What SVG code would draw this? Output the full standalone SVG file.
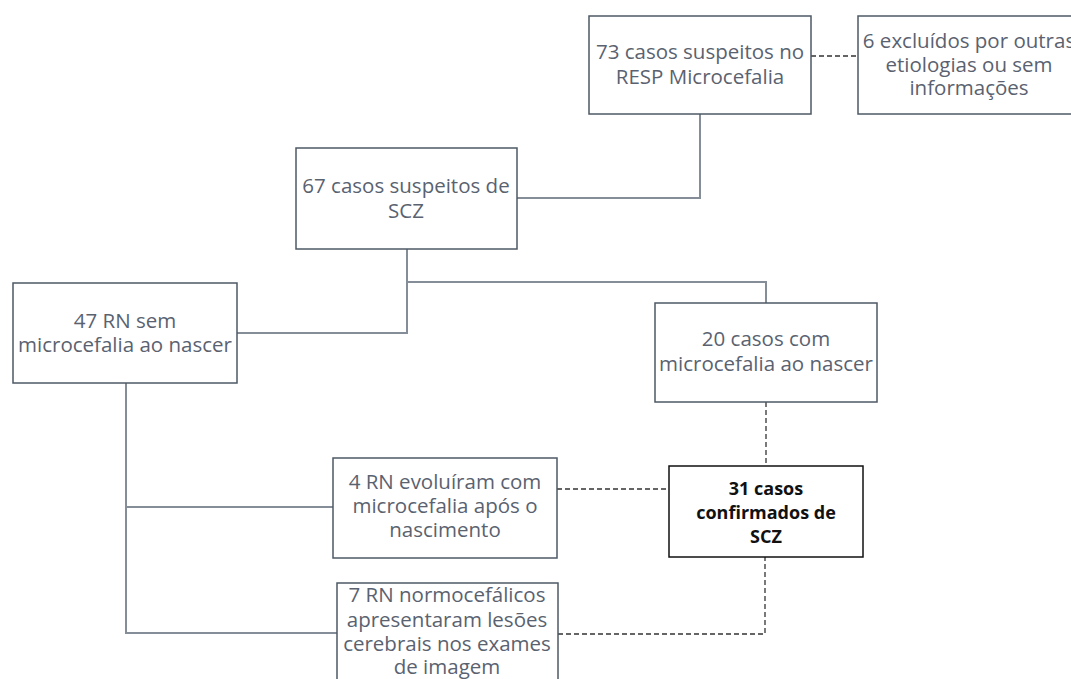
<svg xmlns="http://www.w3.org/2000/svg" width="1071" height="679" viewBox="0 0 1071 679">
<style>
.box{fill:#fff;stroke:#4e5866;stroke-width:1.5}
.t{font-family:"Open Sans",Lato,sans-serif;font-size:20.5px;fill:#5a6270;text-anchor:middle}
.b{font-family:"Open Sans",Lato,sans-serif;font-size:18px;fill:#111;font-weight:bold;text-anchor:middle}
.c{fill:none;stroke:#858d98;stroke-width:2}
.d{fill:none;stroke:#333;stroke-width:1.3;stroke-dasharray:5,3}
</style>
<rect width="1071" height="679" fill="#fff"/>
<g id="connectors">
<polyline class="c" points="700,114 700,198 517,198"/>
<polyline class="c" points="407,249 407,333 237,333"/>
<polyline class="c" points="407,282 766,282 766,303"/>
<polyline class="c" points="126,383 126,633 337,633"/>
<line class="c" x1="126" y1="507" x2="333" y2="507"/>
<line class="d" x1="811" y1="56" x2="858" y2="56"/>
<line class="d" x1="766" y1="402" x2="766" y2="466"/>
<line class="d" x1="557" y1="489" x2="669" y2="489"/>
<polyline class="d" points="558,634 765,634 765,557"/>
</g>
<g id="n73">
<rect class="box" x="589" y="16" width="222" height="98"/>
<text class="t" x="700" y="59">73 casos suspeitos no</text>
<text class="t" x="700" y="84">RESP Microcefalia</text>
</g>
<g id="n6">
<rect class="box" x="858" y="16" width="222" height="98"/>
<text class="t" x="969" y="48">6 excluídos por outras</text>
<text class="t" x="969" y="71.5">etiologias ou sem</text>
<text class="t" x="969" y="95">informações</text>
</g>
<g id="n67">
<rect class="box" x="296" y="148" width="221" height="101"/>
<text class="t" x="406" y="193">67 casos suspeitos de</text>
<text class="t" x="406" y="218">SCZ</text>
</g>
<g id="n47">
<rect class="box" x="13" y="283" width="224" height="100"/>
<text class="t" x="125" y="328">47 RN sem</text>
<text class="t" x="125" y="352">microcefalia ao nascer</text>
</g>
<g id="n20">
<rect class="box" x="655" y="303" width="222" height="99"/>
<text class="t" x="766" y="346">20 casos com</text>
<text class="t" x="766" y="371">microcefalia ao nascer</text>
</g>
<g id="n4">
<rect class="box" x="333" y="458" width="224" height="100"/>
<text class="t" x="445" y="489">4 RN evoluíram com</text>
<text class="t" x="445" y="513">microcefalia após o</text>
<text class="t" x="445" y="537">nascimento</text>
</g>
<g id="n31">
<rect x="669" y="466" width="194" height="91" fill="#fff" stroke="#111" stroke-width="1.5"/>
<text class="b" x="766" y="495">31 casos</text>
<text class="b" x="766" y="519">confirmados de</text>
<text class="b" x="766" y="543">SCZ</text>
</g>
<g id="n7">
<rect class="box" x="337" y="583" width="221" height="110"/>
<text class="t" x="447" y="602">7 RN normocefálicos</text>
<text class="t" x="447" y="627">apresentaram lesões</text>
<text class="t" x="447" y="651">cerebrais nos exames</text>
<text class="t" x="447" y="674">de imagem</text>
</g>
</svg>
